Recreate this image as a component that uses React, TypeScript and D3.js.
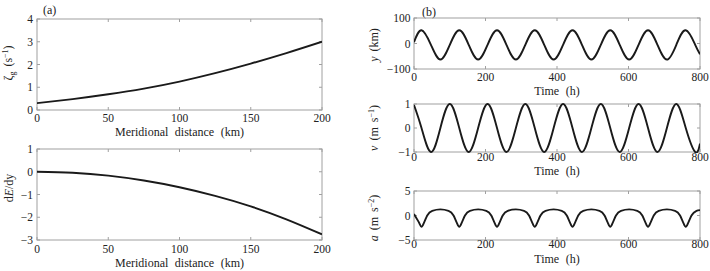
import React from "react";
import * as d3 from "d3";

// ---------- data ----------
const distTicks = [0, 50, 100, 150, 200];
const distKm = [0, 25, 50, 75, 100, 125, 150, 175, 200];
const zetaG = [0.3, 0.48, 0.69, 0.94, 1.25, 1.62, 2.04, 2.5, 3.0];
const dEdy = [0, -0.045, -0.17, -0.385, -0.68, -1.06, -1.52, -2.09, -2.75];

const timeTicks = [0, 200, 400, 600, 800];

const yTime = [0, 21, 47.4, 73.8, 100.2, 126.6, 153, 179.4, 205.8, 232.2, 258.6, 285, 311.4, 337.8, 364.2, 390.6, 417, 443.4, 469.8, 496.2, 522.6, 549, 575.4, 601.8, 628.2, 654.6, 681, 707.4, 733.8, 760.2, 786.6, 800];
const yKm = [5, 52, -5, -63, -5, 52, -5, -63, -5, 52, -5, -63, -5, 52, -5, -63, -5, 52, -5, -63, -5, 52, -5, -63, -5, 52, -5, -63, -5, 52, -5, -42];

const vTime = [0, 21, 47.4, 73.8, 100.2, 126.6, 153, 179.4, 205.8, 232.2, 258.6, 285, 311.4, 337.8, 364.2, 390.6, 417, 443.4, 469.8, 496.2, 522.6, 549, 575.4, 601.8, 628.2, 654.6, 681, 707.4, 733.8, 760.2, 786.6, 800];
const vMs = [0.96, 0, -1, 0, 1, 0, -1, 0, 1, 0, -1, 0, 1, 0, -1, 0, 1, 0, -1, 0, 1, 0, -1, 0, 1, 0, -1, 0, 1, 0, -1, -0.65];

const aTime = [
  0, 13, 21, 29, 37, 51, 73.8, 96.6,
  110.6, 118.6, 126.6, 134.6, 142.6, 156.6, 179.4, 202.2,
  216.2, 224.2, 232.2, 240.2, 248.2, 262.2, 285, 307.8,
  321.8, 329.8, 337.8, 345.8, 353.8, 367.8, 390.6, 413.4,
  427.4, 435.4, 443.4, 451.4, 459.4, 473.4, 496.2, 519,
  533, 541, 549, 557, 565, 579, 601.8, 624.6,
  638.6, 646.6, 654.6, 662.6, 670.6, 684.6, 707.4, 730.2,
  744.2, 752.2, 760.2, 768.2, 776.2, 790.2, 800,
];
const aMs2 = [
  0.3, -1.3, -2.3, -1.3, 0, 0.95, 1.25, 0.95,
  0, -1.3, -2.3, -1.3, 0, 0.95, 1.25, 0.95,
  0, -1.3, -2.3, -1.3, 0, 0.95, 1.25, 0.95,
  0, -1.3, -2.3, -1.3, 0, 0.95, 1.25, 0.95,
  0, -1.3, -2.3, -1.3, 0, 0.95, 1.25, 0.95,
  0, -1.3, -2.3, -1.3, 0, 0.95, 1.25, 0.95,
  0, -1.3, -2.3, -1.3, 0, 0.95, 1.25, 0.95,
  0, -1.3, -2.3, -1.3, 0, 0.95, 1.1,
];

// ---------- styling ----------
const FONT = "Liberation Serif, Times New Roman, DejaVu Serif, serif";
const TXT = "#222";
const AXC = "#a0a0a0";
const FS = 11.5;
const FST = 12;

type PanelProps = {
  id: string;
  x0: number; x1: number; y0: number; y1: number;
  xDomain: [number, number]; yDomain: [number, number];
  xTicks: number[]; yTicks: number[];
  xs: number[]; ys: number[];
  curve: d3.CurveFactory;
  tickBase: number; titleBase: number; xTitle: string;
  yLabel: React.ReactNode; yLabelX: number; yLabelY: number;
  yTickX: number;
};

function Panel(p: PanelProps) {
  const x = d3.scaleLinear().domain(p.xDomain).range([p.x0, p.x1]);
  const y = d3.scaleLinear().domain(p.yDomain).range([p.y1, p.y0]);
  const line = d3.line<number>().x((_, i) => x(p.xs[i])).y((d) => y(d)).curve(p.curve);
  const t = 3;
  return (
    <g>
      <defs>
        <clipPath id={p.id}>
          <rect x={p.x0} y={p.y0 - 1} width={p.x1 - p.x0} height={p.y1 - p.y0 + 2} />
        </clipPath>
      </defs>
      <rect x={p.x0} y={p.y0} width={p.x1 - p.x0} height={p.y1 - p.y0} fill="none" stroke={AXC} strokeWidth={1} />
      {p.xTicks.map((v) => (
        <g key={"xt" + v}>
          <line x1={x(v)} x2={x(v)} y1={p.y1} y2={p.y1 - t} stroke={AXC} />
          <line x1={x(v)} x2={x(v)} y1={p.y0} y2={p.y0 + t} stroke={AXC} />
          <text x={x(v)} y={p.tickBase} textAnchor="middle" fontSize={FS} fill={TXT}>{v}</text>
        </g>
      ))}
      {p.yTicks.map((v) => (
        <g key={"yt" + v}>
          <line x1={p.x0} x2={p.x0 + t} y1={y(v)} y2={y(v)} stroke={AXC} />
          <line x1={p.x1} x2={p.x1 - t} y1={y(v)} y2={y(v)} stroke={AXC} />
          <text x={p.yTickX} y={y(v) + 4} textAnchor="end" fontSize={FS} fill={TXT}>{v < 0 ? "\u2212" + Math.abs(v) : v}</text>
        </g>
      ))}
      <path d={line(p.ys) || ""} fill="none" stroke="#1a1a1a" strokeWidth={1.9} clipPath={`url(#${p.id})`} />
      <text x={(p.x0 + p.x1) / 2} y={p.titleBase} textAnchor="middle" fontSize={FST} wordSpacing={3.5} fill={TXT}>{p.xTitle}</text>
      <text transform={`translate(${p.yLabelX},${p.yLabelY}) rotate(-90)`} textAnchor="middle" fontSize={FST} wordSpacing={2} fill={TXT}>{p.yLabel}</text>
    </g>
  );
}

export default function App() {
  const A = { x0: 37, x1: 322 };
  const B = { x0: 414, x1: 700 };
  return (
    <svg width={710} height={271} style={{ position: "absolute", left: 0, top: 0, background: "#fff" }}>
      <g fontFamily={FONT}>
        <text x={43} y={14} fontSize={FST} fill={TXT}>(a)</text>
        <text x={422} y={16} fontSize={FST} fill={TXT}>(b)</text>
        <Panel id="ca1" {...A} y0={19} y1={110} xDomain={[0, 200]} yDomain={[0, 4]}
          xTicks={distTicks} yTicks={[0, 1, 2, 3, 4]} xs={distKm} ys={zetaG} curve={d3.curveNatural}
          tickBase={122.3} titleBase={136} xTitle="Meridional distance (km)"
          yLabel={<><tspan>ζ</tspan><tspan fontSize={8} dy={3}>g</tspan><tspan dy={-3}> (s</tspan><tspan fontSize={8} dy={-4}>−1</tspan><tspan dy={4}>)</tspan></>}
          yLabelX={12} yLabelY={63} yTickX={33} />
        <Panel id="ca2" {...A} y0={149} y1={240} xDomain={[0, 200]} yDomain={[-3, 1]}
          xTicks={distTicks} yTicks={[-3, -2, -1, 0, 1]} xs={distKm} ys={dEdy} curve={d3.curveNatural}
          tickBase={253.3} titleBase={267} xTitle="Meridional distance (km)"
          yLabel={<><tspan>d</tspan><tspan fontStyle="italic">E</tspan><tspan>/dy</tspan></>}
          yLabelX={13} yLabelY={188} yTickX={33} />
        <Panel id="cb1" {...B} y0={18} y1={69} xDomain={[0, 800]} yDomain={[-100, 100]}
          xTicks={timeTicks} yTicks={[-100, 0, 100]} xs={yTime} ys={yKm} curve={d3.curveNatural}
          tickBase={81.3} titleBase={95} xTitle="Time (h)"
          yLabel={<><tspan fontStyle="italic">y</tspan><tspan> (km)</tspan></>}
          yLabelX={378} yLabelY={45} yTickX={410.5} />
        <Panel id="cb2" {...B} y0={104} y1={152} xDomain={[0, 800]} yDomain={[-1, 1]}
          xTicks={timeTicks} yTicks={[-1, 0, 1]} xs={vTime} ys={vMs} curve={d3.curveNatural}
          tickBase={161.3} titleBase={175} xTitle="Time (h)"
          yLabel={<><tspan fontStyle="italic">v</tspan><tspan> (m s</tspan><tspan fontSize={8} dy={-4}>−1</tspan><tspan dy={4}>)</tspan></>}
          yLabelX={378} yLabelY={128} yTickX={410.5} />
        <Panel id="cb3" {...B} y0={191} y1={240} xDomain={[0, 800]} yDomain={[-5, 5]}
          xTicks={timeTicks} yTicks={[-5, 0, 5]} xs={aTime} ys={aMs2} curve={d3.curveMonotoneX}
          tickBase={248.3} titleBase={263} xTitle="Time (h)"
          yLabel={<><tspan fontStyle="italic">a</tspan><tspan> (m s</tspan><tspan fontSize={8} dy={-4}>−2</tspan><tspan dy={4}>)</tspan></>}
          yLabelX={378} yLabelY={218} yTickX={410.5} />
      </g>
    </svg>
  );
}
